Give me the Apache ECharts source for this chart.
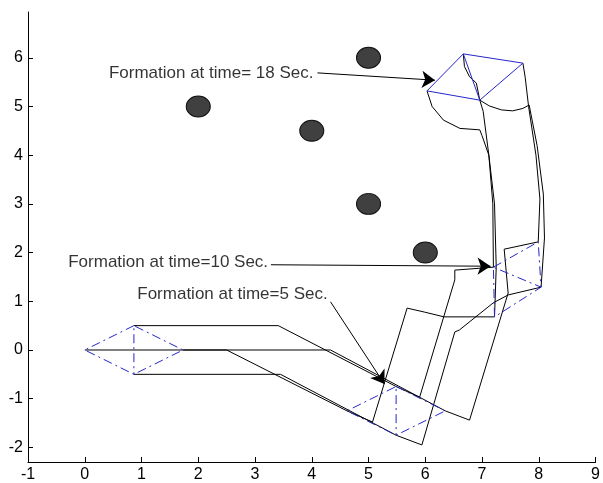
<!DOCTYPE html>
<html>
<head>
<meta charset="utf-8">
<script src="https://cdn.jsdelivr.net/npm/echarts@6/dist/echarts.min.js"></script>
<style>
  html, body { margin: 0; padding: 0; background: #fff; }
  #chart { width: 603px; height: 483px; }
</style>
</head>
<body>
<div id="chart"></div>
<script>
// axis ticks
const xMin = -1, xMax = 9;
const yMin = -2.3, yMax = 6.94;
const yTicks = [-2, -1, 0, 1, 2, 3, 4, 5, 6];

// obstacles
const obstacles = [[2, 5], [4, 4.5], [5, 6], [5, 3], [6, 2]];

// robot trajectories
const pathA = [[0.866, 0.5], [3.41, 0.5], [5.486, -0.75], [5.9, -0.97], [6.52, 1.44], [6.52, 1.64], [7.2, 1.7],
  [7.19, 3.0], [7.12, 4.0], [7.02, 4.9], [6.96, 5.13], [6.9, 5.48], [6.78, 5.61], [6.69, 5.82], [6.67, 6.08]];
const pathMid = [[0, 0], [4.33, 0], [6.352, -1.25], [6.78, -1.44], [7.46, 1.17], [7.39, 2.07], [7.99, 2.22],
  [8.02, 3.1], [7.95, 4.0], [7.82, 5.0], [7.76, 5.6], [7.72, 5.89]];
const pathBottom = [[0.866, -0.5], [3.45, -0.5], [5.486, -1.75], [5.94, -1.95], [6.52, 0.37], [6.6, 0.41], [7.2, 0.97],
  [7.46, 1.13], [8.04, 1.29], [8.1, 2.3], [8.08, 3.2], [7.97, 4.2], [7.83, 5.03], [7.72, 4.96], [7.54, 4.91],
  [7.34, 4.93], [7.13, 5.01], [6.96, 5.13]];
const pathRight = [[1.732, 0], [2.5, 0], [4.62, -1.25], [5.07, -1.48], [5.68, 0.86], [5.98, 0.78], [6.33, 0.68],
  [7.22, 0.68], [7.25, 1.7], [7.22, 3.0], [7.12, 4.0], [7.0, 4.4], [6.96, 4.52], [6.61, 4.55], [6.32, 4.72],
  [6.12, 5.0], [6.03, 5.32]];

// formations: A -> mid -> bottom -> right -> A -> bottom (diagonal)
const form0 = [[0.866, 0.5], [0, 0], [0.866, -0.5], [1.732, 0], [0.866, 0.5], [0.866, -0.5]];
const form5 = [[5.486, -0.75], [6.352, -1.25], [5.486, -1.75], [4.62, -1.25], [5.486, -0.75], [5.486, -1.75]];
const form10 = [[7.2, 1.7], [7.99, 2.22], [8.04, 1.29], [7.22, 0.68], [7.2, 1.7], [8.04, 1.29]];
const form18 = [[6.67, 6.08], [7.72, 5.89], [6.96, 5.13], [6.03, 5.32], [6.67, 6.08], [6.96, 5.13]];

// annotations
const annoText = ['Formation at time= 18 Sec.', 'Formation at time=10 Sec.', 'Formation at time=5 Sec.'];
const annoPos = [[4.03, 5.69], [3.23, 1.79], [4.28, 1.15]];
const arrowTail = [[4.1, 5.69], [3.28, 1.75], [4.33, 0.99]];
const arrowTip = [[6.17, 5.54], [7.15, 1.72], [5.28, -0.7]];

const font = "'Liberation Sans', Arial, sans-serif";
const blue = '#2626c8';
const dashDot = [9, 4, 2, 4];

let chart = echarts.init(document.getElementById('chart'));

function pathSeries(name, data) {
  return {
    name: name, type: 'line', data: data, symbol: 'none', silent: true,
    lineStyle: { color: '#000', width: 1 }, z: 2
  };
}
function formSeries(name, data, type) {
  return {
    name: name, type: 'line', data: data, symbol: 'none', silent: true,
    lineStyle: { color: blue, width: 1, type: type }, z: 3
  };
}

let option = {
  animation: false,
  backgroundColor: '#fff',
  grid: { left: 28, right: 3, top: 12, bottom: 20 },
  xAxis: {
    type: 'value', min: xMin, max: xMax, interval: 1,
    axisLine: { onZero: false, lineStyle: { color: '#000', width: 1 } },
    axisTick: { inside: true, length: 5, lineStyle: { color: '#000' } },
    axisLabel: { color: '#000', fontFamily: font, fontSize: 16, margin: 5, showMaxLabel: true, showMinLabel: true },
    splitLine: { show: false }
  },
  yAxis: {
    type: 'value', min: yMin, max: yMax,
    axisLine: { show: true, onZero: false, lineStyle: { color: '#000', width: 1 } },
    axisTick: { inside: true, length: 5, customValues: yTicks, lineStyle: { color: '#000' } },
    axisLabel: { color: '#000', fontFamily: font, fontSize: 16, margin: 5, customValues: yTicks },
    splitLine: { show: false }
  },
  series: [
    pathSeries('A', pathA),
    pathSeries('mid', pathMid),
    pathSeries('bottom', pathBottom),
    pathSeries('right', pathRight),
    formSeries('t0', form0, dashDot),
    formSeries('t5', form5, dashDot),
    formSeries('t10', form10, dashDot),
    formSeries('t18', form18, 'solid'),
    {
      name: 'obstacles', type: 'scatter', data: obstacles, symbol: 'circle', symbolSize: [24, 21],
      itemStyle: { color: '#404040', borderColor: '#111', borderWidth: 1, opacity: 1 }, z: 4, silent: true
    },
    {
      name: 'arrows', type: 'lines', coordinateSystem: 'cartesian2d', silent: true, z: 5,
      symbol: ['none', 'arrow'], symbolSize: 13,
      lineStyle: { color: '#000', width: 1, opacity: 1 },
      data: arrowTail.map((t, i) => ({ coords: [t, arrowTip[i]] }))
    },
    {
      name: 'labels', type: 'scatter', symbolSize: 0, silent: true, z: 6,
      data: annoPos.map((p, i) => ({ value: p, name: annoText[i] })),
      label: {
        show: true, position: 'left', distance: 0, formatter: p => p.name,
        color: '#000', fontFamily: font, fontSize: 17
      }
    }
  ]
};
option && chart.setOption(option);
</script>
</body>
</html>
